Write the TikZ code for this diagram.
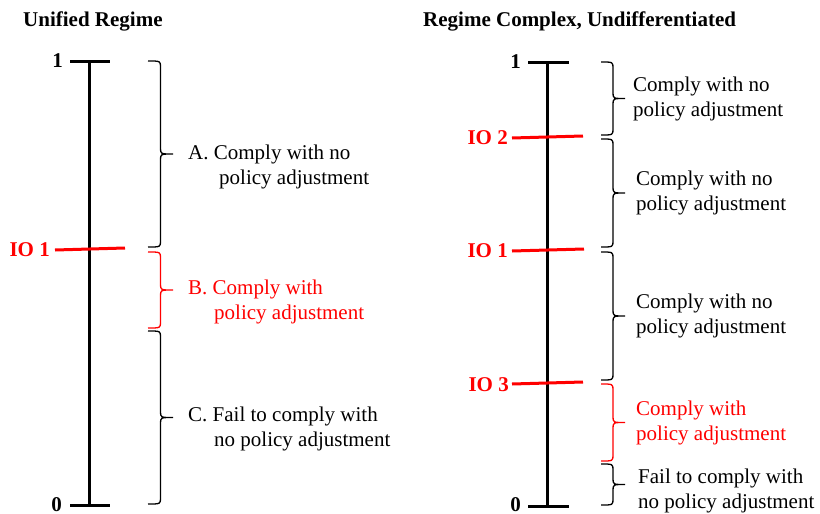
\documentclass[tikz,border=0pt]{standalone}
\usepackage{fontspec}
\setmainfont{Liberation Serif}
\usetikzlibrary{calc}
\newcommand\drawbrace[4]{%
  \coordinate (bm) at ($(#1)!0.5!(#2)$);
  \draw[#4] (#1) .. controls ($(#1)+(#3/2,0)$) .. ($(#1)+(#3/2,6)$)
    -- ($(bm)+(#3/2,-6)$) .. controls ($(bm)+(#3/2,0)$) .. ($(bm)+(#3,0)$)
    .. controls ($(bm)+(#3/2,0)$) .. ($(bm)+(#3/2,6)$)
    -- ($(#2)+(#3/2,-6)$) .. controls ($(#2)+(#3/2,0)$) .. (#2);}
\begin{document}
\begin{tikzpicture}[x=1pt,y=-1pt,
  txt/.style={anchor=base west,inner sep=0pt,font=\fontsize{21}{25}\selectfont},
  ttl/.style={anchor=base west,inner sep=0pt,font=\fontsize{21}{25}\selectfont\bfseries},
  lab/.style={anchor=base east,inner sep=0pt,font=\fontsize{21}{25}\selectfont\bfseries},
  axisline/.style={line width=3pt},
  tickk/.style={line width=3pt},
  iotick/.style={line width=3pt,red},
  brc/.style={line width=1.3pt},
]
\useasboundingbox (0,0) rectangle (820,514);

% ---------- Left panel ----------
\node[ttl] (t1) at (23,26) {Unified Regime};
\coordinate (LT) at (89,61);
\coordinate (LB) at (89,505);
\coordinate (LTl) at (70,61);  \coordinate (LTr) at (110,61);
\coordinate (LBl) at (70,505); \coordinate (LBr) at (110,505);
\coordinate (LIOl) at (55,250); \coordinate (LIOr) at (125,248);
\draw[axisline] (LT) -- (LB);
\draw[tickk] (LTl) -- (LTr);
\draw[tickk] (LBl) -- (LBr);
\draw[iotick] (LIOl) -- (LIOr);
\node[lab] (l1) at (63,67) {1};
\node[lab] (l0) at (62,511) {0};
\node[lab,red] (lio1) at (50,256) {IO 1};

\coordinate (bA1) at (148,61);  \coordinate (bA2) at (148,247);
\coordinate (bB1) at (148,252); \coordinate (bB2) at (148,328);
\coordinate (bC1) at (148,331); \coordinate (bC2) at (148,504);
\drawbrace{bA1}{bA2}{25}{brc}
\drawbrace{bB1}{bB2}{25}{brc,red}
\drawbrace{bC1}{bC2}{25}{brc}

\node[txt] (a1) at (188,159) {A. Comply with no};
\node[txt] (a2) at (219,184) {policy adjustment};
\node[txt,red] (b1) at (188,294) {B. Comply with};
\node[txt,red] (b2) at (214,319) {policy adjustment};
\node[txt] (c1) at (188,421) {C. Fail to comply with};
\node[txt] (c2) at (214,446) {no policy adjustment};

% ---------- Right panel ----------
\node[ttl] (t2) at (423,26) {Regime Complex, Undifferentiated};
\coordinate (RT) at (547,62);
\coordinate (RB) at (547,506);
\coordinate (RTl) at (528,62);  \coordinate (RTr) at (569,62);
\coordinate (RBl) at (528,506); \coordinate (RBr) at (569,506);
\coordinate (RIO2l) at (512,138); \coordinate (RIO2r) at (583,136);
\coordinate (RIO1l) at (512,251); \coordinate (RIO1r) at (584,249);
\coordinate (RIO3l) at (512,384); \coordinate (RIO3r) at (583,382);
\draw[axisline] (RT) -- (RB);
\draw[tickk] (RTl) -- (RTr);
\draw[tickk] (RBl) -- (RBr);
\draw[iotick] (RIO2l) -- (RIO2r);
\draw[iotick] (RIO1l) -- (RIO1r);
\draw[iotick] (RIO3l) -- (RIO3r);
\node[lab] (r1) at (521,68) {1};
\node[lab] (r0) at (521,511) {0};
\node[lab,red] (rio2) at (508,144) {IO 2};
\node[lab,red] (rio1) at (508,257) {IO 1};
\node[lab,red] (rio3) at (509,391) {IO 3};

\coordinate (b11) at (601,62);  \coordinate (b12) at (601,135);
\coordinate (b21) at (601,139); \coordinate (b22) at (601,247);
\coordinate (b31) at (601,252); \coordinate (b32) at (601,380);
\coordinate (b41) at (601,384); \coordinate (b42) at (601,461);
\coordinate (b51) at (601,464); \coordinate (b52) at (601,505);
\drawbrace{b11}{b12}{24}{brc}
\drawbrace{b21}{b22}{24}{brc}
\drawbrace{b31}{b32}{24}{brc}
\drawbrace{b41}{b42}{24}{brc,red}
\drawbrace{b51}{b52}{24}{brc}

\node[txt] (s11) at (633,91) {Comply with no};
\node[txt] (s12) at (633,116) {policy adjustment};
\node[txt] (s21) at (636,185) {Comply with no};
\node[txt] (s22) at (636,210) {policy adjustment};
\node[txt] (s31) at (636,308) {Comply with no};
\node[txt] (s32) at (636,333) {policy adjustment};
\node[txt,red] (s41) at (636,415) {Comply with};
\node[txt,red] (s42) at (636,440) {policy adjustment};
\node[txt] (s51) at (638,483) {Fail to comply with};
\node[txt] (s52) at (638,508) {no policy adjustment};
\end{tikzpicture}
\end{document}
